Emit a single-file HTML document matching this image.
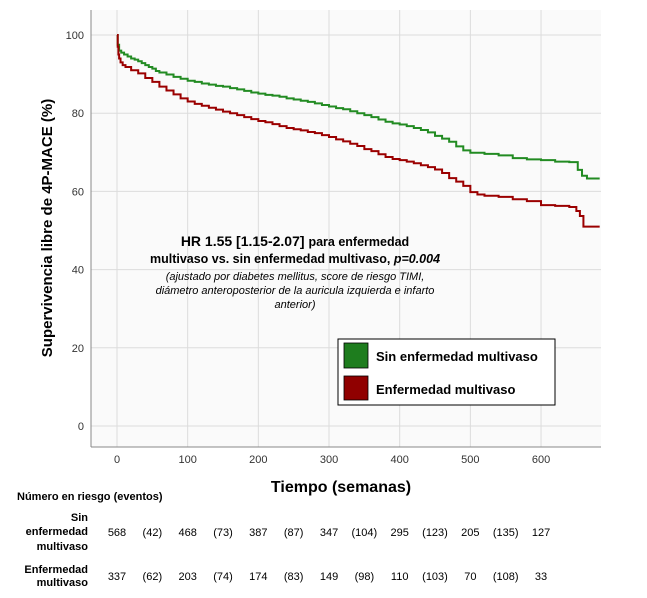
<!DOCTYPE html>
<html><head><meta charset="utf-8"><style>
body{margin:0;background:#fff;font-family:"Liberation Sans",sans-serif}
svg{display:block}
</style></head><body>
<svg id="chart" width="647" height="598" xmlns="http://www.w3.org/2000/svg" font-family="Liberation Sans, sans-serif">
<rect x="91" y="10" width="510" height="437" fill="#fafafa"/>
<g id="grid"></g>
<g id="curves"></g>
<line x1="91" y1="10" x2="91" y2="447" stroke="#888"/>
<line x1="91" y1="447" x2="601" y2="447" stroke="#888"/>
<g id="ticks" font-size="11" fill="#333"></g>
<text transform="translate(52,228) rotate(-90)" text-anchor="middle" font-size="15" font-weight="bold">Supervivencia libre de 4P-MACE (%)</text>
<text x="341" y="492" text-anchor="middle" font-size="16" font-weight="bold">Tiempo (semanas)</text>
<g text-anchor="middle">
<text x="295" y="246" font-size="14" font-weight="bold">HR 1.55 [1.15-2.07] <tspan font-size="12.5">para enfermedad</tspan></text>
<text x="295" y="263" font-size="12.5" font-weight="bold">multivaso vs. sin enfermedad multivaso, <tspan font-style="italic">p=0.004</tspan></text>
<text x="295" y="280" font-size="11" font-style="italic">(ajustado por diabetes mellitus, score de riesgo TIMI,</text>
<text x="295" y="294" font-size="11" font-style="italic">diámetro anteroposterior de la auricula izquierda e infarto</text>
<text x="295" y="308" font-size="11" font-style="italic">anterior)</text>
</g>
<g>
<rect x="338" y="339" width="217" height="66" fill="#fff" stroke="#000"/>
<rect x="344" y="343" width="24" height="25" fill="#1e7d1e" stroke="#000" stroke-width="0.8"/>
<text x="376" y="361" font-size="13" font-weight="bold">Sin enfermedad multivaso</text>
<rect x="344" y="376" width="24" height="24" fill="#900000" stroke="#000" stroke-width="0.8"/>
<text x="376" y="394" font-size="13" font-weight="bold">Enfermedad multivaso</text>
</g>
<g font-size="11">
<text x="17" y="500" font-weight="bold">Número en riesgo (eventos)</text>
<g font-weight="bold" text-anchor="end">
<text x="88" y="521">Sin</text><text x="88" y="535">enfermedad</text><text x="88" y="550">multivaso</text>
<text x="88" y="573">Enfermedad</text><text x="88" y="586">multivaso</text>
</g>
<g id="riskrows" text-anchor="middle"></g>
</g>
</svg>
<script>
const xTicks=[0,100,200,300,400,500,600];
const yTicks=[0,20,40,60,80,100];
const greenT=[0,1,3,6,10,15,20,25,30,35,40,45,50,55,60,70,80,90,100,110,120,130,140,150,160,170,180,190,200,210,220,230,240,250,260,270,280,290,300,310,320,330,340,350,360,370,380,390,400,410,420,430,440,450,460,470,480,490,500,520,540,560,580,600,620,640,652,658,665,683];
const greenV=[100,97.5,96,95.5,95,94.5,94,93.7,93.3,92.8,92.3,91.8,91.4,90.8,90.4,89.9,89.3,88.8,88.3,88,87.6,87.3,87,86.8,86.4,86.1,85.7,85.3,85,84.7,84.5,84.2,83.8,83.5,83.2,82.9,82.5,82.1,81.7,81.3,81,80.5,80,79.5,79,78.4,77.8,77.4,77.1,76.7,76.2,75.7,75.1,74.2,73.5,72.7,71.5,70.5,69.9,69.6,69.2,68.5,68.2,68,67.6,67.5,65.5,64,63.3,63.3];
const redT=[0,1,2,3,5,8,12,20,30,40,50,60,70,80,90,100,110,120,130,140,150,160,170,180,190,200,210,220,230,240,250,260,270,280,290,300,310,320,330,340,350,360,370,380,390,400,410,420,430,440,450,460,470,480,490,500,510,520,540,560,580,600,620,640,650,655,660,683];
const redV=[100,97,95,94,93,92.3,91.8,91,90.2,89,88,86.8,85.8,84.8,83.8,83,82.4,81.9,81.4,80.9,80.4,80,79.5,79,78.5,78,77.7,77.2,76.7,76.2,75.9,75.6,75.2,74.9,74.4,73.9,73.3,72.8,72.2,71.6,70.8,70.3,69.5,68.8,68.3,68,67.6,67.2,66.7,66.2,65.6,64.7,63.4,62.5,61.4,59.8,59.2,58.9,58.6,58,57.5,56.5,56.3,56,55,53.7,51,51];
const riskSin=["568","(42)","468","(73)","387","(87)","347","(104)","295","(123)","205","(135)","127"];
const riskMulti=["337","(62)","203","(74)","174","(83)","149","(98)","110","(103)","70","(108)","33"];
const riskT=[0,50,100,150,200,250,300,350,400,450,500,550,600];
const NS="http://www.w3.org/2000/svg";
const xs=t=>117+t*0.7067;
const ys=v=>426-v*3.91;
function mk(tag,attrs,parent){const e=document.createElementNS(NS,tag);for(const k in attrs)e.setAttribute(k,attrs[k]);parent.appendChild(e);return e;}
const grid=document.getElementById('grid'),ticks=document.getElementById('ticks');
xTicks.forEach(t=>{
 const l=mk('line',{x1:xs(t),x2:xs(t),y1:10,y2:447,stroke:'#dcdcdc'},grid);
 
 
 const tx=mk('text',{x:xs(t),y:463,'text-anchor':'middle'},ticks);tx.textContent=t;
 
 
});
yTicks.forEach(v=>{
 const l=mk('line',{x1:91,x2:601,y1:ys(v),y2:ys(v),stroke:'#dcdcdc'},grid);
 
 
 const tx=mk('text',{x:84,y:ys(v)+4,'text-anchor':'end'},ticks);tx.textContent=v;
 
 
});
function step(T,V){let d='M'+xs(T[0])+','+ys(V[0]);for(let i=1;i<T.length;i++){d+=' H'+xs(T[i])+' V'+ys(V[i]);}return d;}
const curves=document.getElementById('curves');
const g=mk('path',{d:step(greenT,greenV),fill:'none',stroke:'#228b22','stroke-width':2},curves);


const r=mk('path',{d:step(redT,redV),fill:'none',stroke:'#9b0000','stroke-width':2},curves);


const rr=document.getElementById('riskrows');
riskT.forEach((t,i)=>{
 const a=mk('text',{x:xs(t),y:536},rr);a.textContent=riskSin[i];
 
 
 const b=mk('text',{x:xs(t),y:580},rr);b.textContent=riskMulti[i];
 
 
});
</script>
</body></html>
